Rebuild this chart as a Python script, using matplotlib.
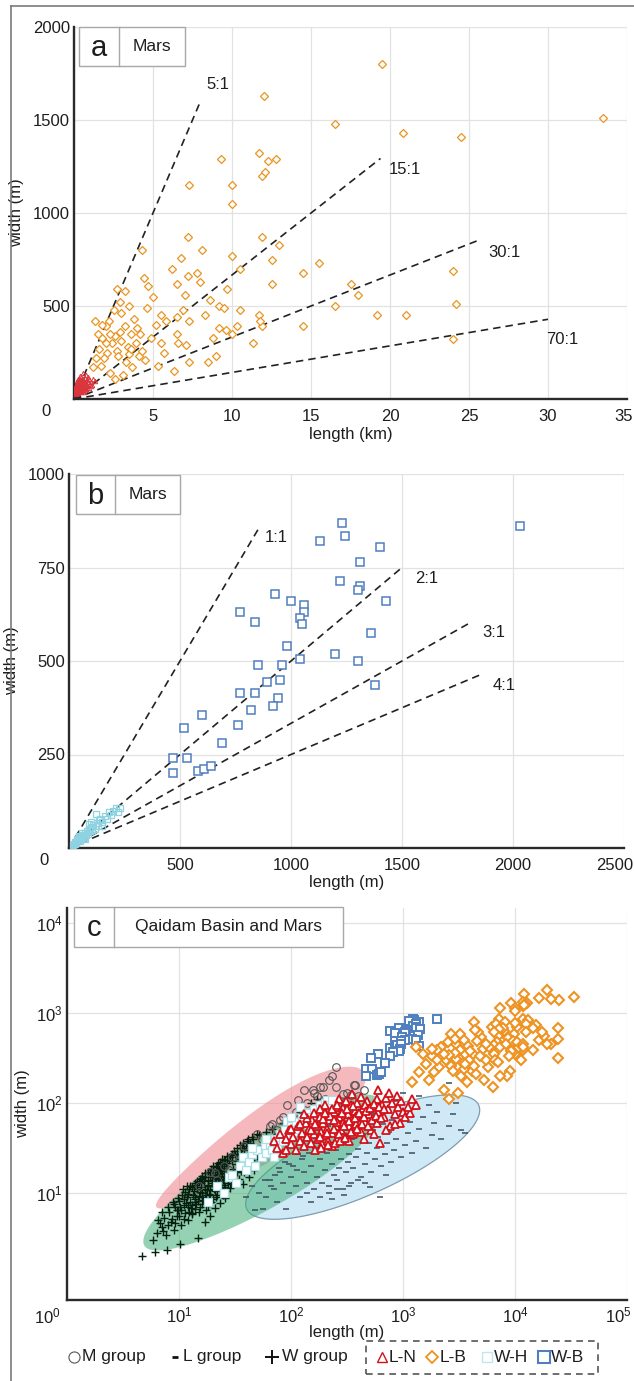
import numpy as np
import matplotlib
matplotlib.use('Agg')
import matplotlib.pyplot as plt
from matplotlib.patches import Rectangle
from matplotlib.lines import Line2D
from matplotlib.ticker import NullLocator

plt.rcParams['font.family'] = ['Liberation Sans', 'DejaVu Sans']
plt.rcParams['mathtext.fontset'] = 'custom'
plt.rcParams['mathtext.rm'] = 'Liberation Sans'
plt.rcParams['mathtext.default'] = 'regular'

# ---------------- data ----------------
# L-B (Mars, panel a): length in km, width in m
LB_len_km = [19.5, 12.0, 33.5, 16.5, 24.5, 20.8, 11.7, 12.8, 12.3, 9.3, 11.9, 12.1, 7.3, 10.0, 10.0,
             11.9, 13.0, 7.2, 8.1, 6.2, 6.8, 4.3, 24.0, 24.2, 24.0, 21.0, 19.2, 16.5, 15.5, 18.0, 14.5, 14.5,
             12.5, 12.5, 10.5, 10.0, 9.7, 9.2, 8.6, 8.0, 7.8, 7.2, 7.0, 6.5, 6.9, 6.5, 6.5, 7.3, 8.3, 9.5,
             10.5, 11.7, 11.9, 11.8, 10.3, 10.0, 9.6, 9.2, 9.0, 8.5, 7.3, 6.3, 5.7, 5.5, 5.2, 5.0, 4.7, 4.6,
             4.2, 3.8, 3.5, 3.2, 3.0, 2.7, 2.5, 2.2, 2.0, 1.8, 1.6, 1.4, 1.2, 1.7, 2.3, 2.6, 3.1, 3.7, 4.1,
             4.5, 3.9, 3.4, 3.0, 2.7, 2.4, 2.1, 1.9, 3.6, 3.2, 2.9, 2.6, 2.3, 4.3, 4.9, 5.3, 6.6, 7.1, 2.8,
             3.3, 1.5, 1.3, 2.0, 3.5, 4.0, 5.8, 3.6, 4.4, 2.9, 1.8, 5.5, 8.8, 11.3, 17.5]
LB_wid_m = [1800, 1630, 1510, 1480, 1410, 1430, 1320, 1290, 1280, 1290, 1200, 1220, 1150, 1150, 1050,
            870, 830, 870, 800, 700, 760, 800, 690, 510, 320, 450, 450, 500, 730, 560, 680, 390,
            750, 620, 700, 770, 590, 500, 530, 630, 680, 660, 560, 620, 480, 440, 350, 420, 450, 490,
            480, 450, 390, 420, 390, 350, 370, 380, 230, 200, 200, 150, 250, 300, 400, 550, 610, 490,
            350, 430, 500, 580, 460, 590, 480, 420, 390, 330, 270, 220, 170, 180, 140, 110, 130, 170, 230,
            210, 300, 280, 310, 260, 300, 250, 220, 350, 390, 360, 340, 350, 260, 330, 180, 300, 290, 230,
            200, 350, 420, 300, 240, 380, 420, 270, 650, 520, 400, 450, 330, 300, 620]

# L-N: length in m, width in m
LN_len_m = [70, 75, 80, 85, 90, 95, 100, 105, 110, 115, 120, 125, 130, 135, 140, 145, 150, 155, 160, 165,
            170, 175, 180, 185, 190, 195, 200, 205, 210, 215, 220, 230, 240, 250, 260, 270, 280, 290, 300, 310,
            320, 330, 340, 350, 360, 370, 380, 390, 400, 420, 440, 460, 480, 500, 520, 540, 560, 580, 600, 620,
            650, 680, 700, 730, 760, 800, 850, 900, 940, 1000, 1050, 1150, 1300, 1200, 1100, 950, 880, 750, 420, 460,
            290, 250, 200, 180, 160, 140, 120, 100, 90, 130, 230, 330, 450, 550, 700, 850, 270, 350, 600, 380,
            150, 165, 180, 195, 210, 225, 240, 255, 270, 285, 300, 315, 330, 345, 360, 375, 390, 405, 430, 450,
            470, 490, 510, 530, 550, 570, 590, 610, 640, 670, 185, 215, 245, 275, 305, 200, 230, 260, 310, 240]
LN_wid_m = [38, 32, 45, 28, 40, 50, 35, 42, 30, 55, 38, 47, 33, 60, 42, 52, 36, 65, 45, 30,
            55, 40, 70, 48, 35, 60, 44, 75, 52, 38, 65, 46, 80, 55, 40, 70, 50, 88, 60, 42,
            75, 55, 95, 65, 45, 82, 58, 100, 70, 48, 88, 62, 105, 75, 50, 92, 66, 110, 80, 36,
            95, 70, 115, 85, 55, 100, 75, 90, 60, 80, 70, 77, 95, 110, 90, 105, 120, 130, 117, 95,
            60, 90, 95, 85, 78, 68, 58, 52, 30, 75, 33, 38, 40, 45, 50, 58, 110, 125, 140, 72,
            50, 58, 42, 66, 47, 72, 52, 62, 45, 78, 55, 85, 63, 48, 92, 68, 52, 78, 58, 70,
            82, 55, 88, 65, 98, 72, 60, 90, 68, 85, 32, 34, 36, 38, 41, 78, 85, 95, 105, 65]

# W-B (Mars, panel b): length m, width m
WB_len_m = [1230, 1245, 1130, 1400, 2030, 1220, 1310, 1310, 1300, 1430, 1000, 930, 770, 1060, 1060,
            1040, 1050, 840, 1360, 980, 850, 1200, 1040, 1300, 960, 770, 840, 890, 950, 1380, 940, 920,
            820, 760, 690, 600, 520, 470, 530, 580, 610, 640, 470]
WB_wid_m = [870, 835, 820, 805, 860, 715, 765, 700, 690, 660, 660, 680, 630, 650, 630,
            615, 600, 605, 575, 540, 490, 520, 505, 500, 490, 415, 415, 445, 450, 435, 400, 380,
            370, 330, 280, 355, 320, 240, 240, 205, 210, 220, 200]

# W-H: length m, width m
WH_len_m = [18, 22, 25, 28, 30, 32, 35, 37, 40, 42, 45, 48, 50, 55, 58, 60, 65, 68, 72, 75, 80, 85, 88, 92,
            95, 100, 105, 110, 115, 120, 125, 130, 135, 140, 150, 160, 170, 180, 190, 200, 210, 220, 230,
            60, 45, 100, 70, 150]
WH_wid_m = [8, 12, 10, 15, 16, 13, 20, 25, 18, 22, 27, 20, 30, 25, 33, 28, 35, 30, 40, 34, 45, 38, 50, 64,
            45, 55, 48, 62, 52, 90, 68, 58, 75, 77, 70, 85, 78, 95, 88, 100, 108, 95, 107,
            40, 32, 70, 25, 60]

# M group (Qaidam): length m, width m
M_len_m = [252, 217, 192, 157, 130, 115, 92, 68, 85, 38, 19, 21, 370, 315, 290, 365, 340,
           25, 30, 45, 55, 60, 75, 100, 110, 140, 170, 200, 250, 300, 350, 400, 450,
           15, 22, 28, 35, 50, 65, 80, 120, 160, 180, 230]
M_wid_m = [252, 180, 150, 139, 139, 108, 95, 58, 70, 33, 17, 16.5, 160, 130, 126, 160, 123,
           20, 25, 30, 40, 35, 50, 60, 80, 100, 120, 110, 150, 100, 90, 120, 140,
           12, 14, 18, 24, 45, 55, 65, 90, 130, 150, 200]

# L group (Qaidam): length m, width m
L_len_m = [48, 56, 90, 140, 620, 510,
           60, 70, 75, 85, 95, 100, 110, 120, 130, 140,
           150, 160, 170, 180, 190, 200, 210, 220, 230, 240,
           250, 260, 270, 280, 290, 300, 310, 320, 330, 340,
           350, 360, 380, 400, 420, 440, 460, 480, 500, 520,
           540, 560, 580, 600, 630, 660, 690, 720, 750, 780,
           800, 830, 860, 900, 950, 1000, 1050, 1100, 1150, 1200,
           1250, 1300, 1400, 1500, 1600, 1700, 1800, 1900, 2000, 2200,
           2400, 2600, 2800, 3000, 3300, 3600, 2600, 1400, 900, 500,
           65, 80, 105, 125, 145, 165, 185, 205, 225, 245,
           88, 115, 135, 155, 175, 195, 215, 265, 295, 320,
           360, 400, 450, 470, 550, 600, 700, 750, 850, 1000,
           150, 180, 220, 260, 330, 400, 230, 300, 460, 700,
           40, 45, 52, 58, 66, 72, 78, 95, 112, 128]
L_wid_m = [6.4, 6.7, 6.7, 10, 9, 11.8,
           9, 11, 8, 13, 10, 15, 12, 9, 17, 13,
           20, 11, 15, 24, 13, 18, 28, 12, 21, 16,
           30, 14, 19, 24, 11, 35, 17, 22, 27, 13,
           40, 19, 25, 31, 15, 45, 21, 28, 36, 17,
           50, 24, 32, 42, 20, 58, 27, 36, 48, 22,
           65, 30, 40, 55, 25, 75, 34, 46, 62, 28,
           85, 38, 52, 70, 32, 95, 44, 60, 80, 40,
           110, 55, 75, 100, 50, 47, 166, 120, 90, 60,
           14, 17, 20, 24, 28, 32, 36, 40, 45, 50,
           22, 27, 33, 37, 43, 48, 55, 60, 45, 70,
           55, 80, 65, 95, 75, 100, 85, 120, 105, 130,
           8, 9, 10, 11, 12, 14, 8.5, 9.5, 13, 16,
           9, 12, 10, 14, 12, 16, 19, 21, 18, 26]

# W group (Qaidam): length m, width m
W_len_m = [4.7, 6.1, 7.8, 10.2, 14.8,
           6.3, 7.0, 7.6, 8.4, 9.0, 9.6, 10.5, 11.2, 12.0, 12.8,
           7.4, 8.2, 9.3, 10.0, 11.0, 11.8, 12.6, 13.5, 14.2, 15.0,
           13.0, 14.0, 15.5, 16.5, 17.5, 18.5, 19.5, 20.5, 21.5, 22.5,
           15.8, 16.8, 17.8, 18.8, 19.8, 20.8, 21.8, 22.8, 23.8, 24.8,
           16.2, 17.2, 18.2, 19.2, 20.2, 21.2, 22.2, 23.2, 24.2, 25.2,
           26.0, 27.5, 29.0, 30.5, 32.0, 34.0, 36.0, 38.0, 40.0, 43.0,
           26.5, 28.0, 29.5, 31.0, 33.0, 35.0, 37.5, 41.0, 45.0, 50.0,
           25.5, 28.5, 31.5, 35.5, 39.0, 44.0, 48.0, 53.0, 58.0, 64.0,
           13.8, 14.6, 15.3, 12.2, 11.4, 10.6, 9.8, 13.2, 14.4, 15.6,
           27.0, 30.0, 33.0, 36.5, 40.5, 46.0, 52.0, 60.0, 68.0, 75.0,
           55.0, 62.0, 70.0, 80.0, 90.0, 100.0, 85.0, 47.0, 42.0, 37.0,
           17.0, 19.0, 21.0, 23.0, 24.5, 16.0, 18.0, 20.0, 22.0, 24.0,
           7.0, 6.5, 8.8, 9.5, 10.8, 11.8, 12.5, 13.8, 120.0, 150.0,
           130.0, 170.0, 200.0,
           10.5, 11.5, 12.3, 13.1, 13.9, 14.7, 15.4, 16.1, 16.9, 17.6,
           18.3, 19.1, 19.8, 20.6, 21.3, 22.1, 22.9, 23.6, 24.4, 25.3,
           11.0, 12.0, 13.0, 14.0, 15.0, 16.0, 17.0, 18.0, 19.0, 20.0,
           21.0, 22.0, 23.0, 24.0, 25.0, 26.0, 27.0, 28.5, 30.0, 31.5,
           10.0, 11.0, 12.0, 13.0, 14.0, 15.0, 16.0, 17.0, 18.0, 19.0,
           20.0, 21.0, 22.0, 23.0, 24.0, 25.0, 26.0, 27.5, 29.0, 30.5,
           33.0, 35.0, 37.0, 39.0, 41.0, 34.0, 38.0, 42.0, 46.0, 50.0,
           8.0, 8.6, 9.2, 9.8, 7.2, 6.8, 5.8, 8.0, 9.0, 10.2]
W_wid_m = [2.0, 2.2, 2.3, 2.7, 3.2,
           3.6, 4.2, 3.4, 4.8, 3.9, 5.5, 4.4, 6.0, 5.0, 6.8,
           5.3, 6.2, 7.0, 8.1, 7.4, 9.0, 8.0, 10.5, 7.6, 9.2,
           5.8, 6.6, 7.0, 8.4, 6.5, 9.8, 8.0, 11.0, 9.0, 12.5,
           11.8, 13.5, 10.8, 15.0, 12.8, 14.5, 17.0, 15.2, 19.0, 13.8,
           15.5, 16.5, 17.0, 18.5, 20.0, 19.8, 21.5, 22.0, 24.0, 23.0,
           10.5, 13.0, 16.0, 18.5, 21.0, 24.0, 27.5, 30.0, 33.0, 36.0,
           20.0, 23.0, 26.5, 29.0, 31.5, 34.5, 36.0, 40.0, 42.0, 45.0,
           8.8, 11.5, 14.0, 17.5, 20.5, 23.5, 27.0, 30.5, 35.0, 40.0,
           12.2, 13.5, 14.2, 11.2, 10.2, 9.5, 8.8, 9.6, 11.0, 12.8,
           26.0, 27.5, 27.0, 32.0, 38.0, 40.0, 44.0, 48.0, 52.0, 45.0,
           25.0, 28.0, 33.0, 38.0, 42.0, 50.0, 60.0, 18.0, 15.0, 12.5,
           4.8, 5.6, 6.8, 7.8, 9.5, 10.0, 12.0, 16.0, 18.5, 16.5,
           6.2, 5.0, 8.0, 6.5, 11.0, 12.0, 12.0, 8.5, 80.0, 100.0,
           75.0, 110.0, 95.0,
           6.5, 7.8, 6.2, 7.4, 9.0, 8.1, 10.2, 9.1, 11.0, 9.6,
           12.2, 10.7, 13.6, 11.9, 14.8, 13.1, 16.2, 14.4, 17.6, 15.6,
           8.6, 9.8, 11.6, 12.8, 13.4, 14.6, 15.2, 14.0, 16.8, 18.0,
           16.0, 19.5, 18.0, 21.0, 19.0, 23.5, 21.5, 25.0, 22.5, 27.0,
           5.6, 5.2, 7.0, 6.0, 8.0, 6.2, 7.6, 8.8, 7.2, 9.4,
           8.6, 10.4, 9.6, 11.4, 10.8, 12.4, 11.6, 14.6, 12.6, 15.8,
           17.0, 20.0, 22.0, 25.0, 27.0, 14.5, 17.0, 19.5, 22.0, 26.0,
           4.4, 5.2, 4.6, 6.4, 3.8, 4.6, 3.0, 7.0, 7.6, 7.0]

# ratio guide lines
ratios_a = [5, 15, 30, 70]
ratio_a_end_km = [8.0, 19.4, 25.7, 30.0]
ratio_a_labels = ['5:1', '15:1', '30:1', '70:1']
ratios_b = [1, 2, 3, 4]
ratio_b_end_m = [860, 1500, 1800, 1850]
ratio_b_labels = ['1:1', '2:1', '3:1', '4:1']

# label anchor points (layout, left edge / vertical centre in data units)
lab_pos_a = [(8.4, 1690), (19.9, 1235), (26.2, 790), (29.9, 318)]
lab_pos_b = [(880, 830), (1560, 720), (1860, 575), (1910, 435)]

# envelopes (log10 length, log10 width): centre, half major axis, half minor axis
env_L = dict(c=(2.64, 1.40), half=(1.025, 0.60), b=0.40, k=0.0)
env_M = dict(c=(1.72, 1.60), half=(0.92, 0.76), b=0.26, k=0.35)
env_W = dict(c=(1.75, 1.22), half=(1.05, 0.82), b=0.36, k=0.10)

# ---------------- figure ----------------
W, H = 634, 1381
fig = plt.figure(figsize=(W / 100, H / 100), dpi=100)


def rect(l, t, r, b):
    return [l / W, 1 - b / H, (r - l) / W, (b - t) / H]


def fx(x):
    return x / W


def fy(y):
    return 1 - y / H


# outer frame (left and top only)
fig.add_artist(Line2D([fx(11), fx(11)], [0, fy(6)], color='#7a7a7a', lw=1.2))
fig.add_artist(Line2D([fx(11), 1], [fy(6), fy(6)], color='#7a7a7a', lw=1.2))

axa = fig.add_axes(rect(74, 27, 627, 399))
axb = fig.add_axes(rect(69, 474, 624, 848))
axc = fig.add_axes(rect(67, 908, 627, 1300))

TXT = '#1e1e1e'
FS = 12


def style(ax):
    for s in ['top', 'right']:
        ax.spines[s].set_visible(False)
    for s in ['left', 'bottom']:
        ax.spines[s].set_linewidth(1.7)
        ax.spines[s].set_color('#2a2a2a')
    ax.grid(True, which='major', color='#e2e2e2', lw=0.9)
    ax.set_axisbelow(True)
    ax.tick_params(which='both', length=0, labelsize=FS, colors=TXT)
    ax.tick_params(axis='x', pad=7)
    ax.tick_params(axis='y', pad=3)


def last_xlabel(ax, xval, text, dx_pt, pad_pt):
    ax.annotate(text, (xval, 0), xycoords=('data', 'axes fraction'), xytext=(dx_pt, -pad_pt),
                textcoords='offset points', ha='right', va='top', fontsize=FS, color=TXT)


def label_box(x0, y0, xdiv, x1, y1, letter, title, lsize=21):
    fig.add_artist(Rectangle((fx(x0), fy(y1)), fx(x1) - fx(x0), fy(y0) - fy(y1),
                             transform=fig.transFigure, facecolor='white',
                             edgecolor='#a8a8a8', lw=1.0, zorder=10))
    fig.add_artist(Line2D([fx(xdiv), fx(xdiv)], [fy(y1), fy(y0)], color='#a8a8a8', lw=1.0, zorder=11))
    fig.text(fx((x0 + xdiv) / 2), fy((y0 + y1) / 2 + 1), letter, ha='center', va='center',
             fontsize=lsize, color=TXT, zorder=12)
    fig.text(fx((xdiv + x1) / 2), fy((y0 + y1) / 2), title, ha='center', va='center',
             fontsize=12.5, color=TXT, zorder=12)


# ---- panel a ----
style(axa)
axa.set_xlim(0, 35)
axa.set_ylim(0, 2000)
axa.set_xticks([0, 5, 10, 15, 20, 25, 30, 35])
axa.set_xticklabels(['', '5', '10', '15', '20', '25', '30', ''])
last_xlabel(axa, 35, '35', 4.5, 7)
axa.set_yticks([0, 500, 1000, 1500, 2000])
axa.set_yticklabels(['', '500', '1000', '1500', '2000'])
for r, xe, lab, pos in zip(ratios_a, ratio_a_end_km, ratio_a_labels, lab_pos_a):
    axa.plot([0, xe], [0, xe * 1000 / r], ls=(0, (4.5, 3)), color='#222', lw=1.2, zorder=2)
    axa.text(pos[0], pos[1], lab, ha='left', va='center', fontsize=FS, color=TXT)
axa.plot(np.array(LN_len_m) / 1000, LN_wid_m, ls='none', marker='^', ms=3.2, mfc='none',
         mec='#d9363e', mew=0.7, zorder=3)
axa.plot(LB_len_km, LB_wid_m, ls='none', marker='D', ms=4.2, mfc='white', mec='#e8951f',
         mew=0.9, zorder=4)
axa.set_xlabel('length (km)', fontsize=FS, color=TXT, labelpad=2)
axa.set_ylabel('width (m)', fontsize=FS, color=TXT, labelpad=6)
axa.annotate('0', (0, 0), xycoords='axes fraction', xytext=(-20, -9), textcoords='offset points',
             ha='center', va='center', fontsize=FS, color=TXT)
label_box(79, 27, 119, 185, 66, 'a', 'Mars')

# ---- panel b ----
style(axb)
axb.set_xlim(0, 2500)
axb.set_ylim(0, 1000)
axb.set_xticks([0, 500, 1000, 1500, 2000, 2500])
axb.set_xticklabels(['', '500', '1000', '1500', '2000', ''])
last_xlabel(axb, 2500, '2500', 6.5, 7)
axb.set_yticks([0, 250, 500, 750, 1000])
axb.set_yticklabels(['', '250', '500', '750', '1000'])
for r, xe, lab, pos in zip(ratios_b, ratio_b_end_m, ratio_b_labels, lab_pos_b):
    axb.plot([0, xe], [0, xe / r], ls=(0, (4.5, 3)), color='#222', lw=1.2, zorder=2)
    axb.text(pos[0], pos[1], lab, ha='left', va='center', fontsize=FS, color=TXT)
axb.plot(WH_len_m, WH_wid_m, ls='none', marker='s', ms=4.2, mfc='none', mec='#8fd3e3',
         mew=0.9, zorder=3)
axb.plot(WB_len_m, WB_wid_m, ls='none', marker='s', ms=5.2, mfc='white', mec='#4f7fbf',
         mew=1.1, zorder=4)
axb.set_xlabel('length (m)', fontsize=FS, color=TXT, labelpad=2)
axb.set_ylabel('width (m)', fontsize=FS, color=TXT, labelpad=6)
axb.annotate('0', (0, 0), xycoords='axes fraction', xytext=(-18, -9), textcoords='offset points',
             ha='center', va='center', fontsize=FS, color=TXT)
label_box(76, 475, 115, 180, 514, 'b', 'Mars')

# ---- panel c ----
style(axc)
axc.set_xscale('log')
axc.set_yscale('log')
axc.set_xlim(1, 1e5)
axc.set_ylim(10 ** -0.19, 10 ** 4.17)
axc.xaxis.set_minor_locator(NullLocator())
axc.yaxis.set_minor_locator(NullLocator())
axc.set_xticks([1, 10, 100, 1000, 10000, 100000])
axc.set_xticklabels(['', '$10^{1}$', '$10^{2}$', '$10^{3}$', '$10^{4}$', ''])
axc.set_yticks([10, 100, 1000, 10000])
axc.set_yticklabels(['$10^{1}$', '$10^{2}$', '$10^{3}$', '$10^{4}$'])
axc.tick_params(axis='x', pad=4)
last_xlabel(axc, 1e5, '$10^{5}$', 3, 4)


def envelope(ax, c, half, b, k, **kw):
    t = np.linspace(0, 2 * np.pi, 300)
    u = np.array(half, dtype=float)
    n = np.array([-u[1], u[0]]) / np.hypot(*u)
    w = b * (1 + k * np.cos(t))
    px = c[0] + np.cos(t) * u[0] + np.sin(t) * w * n[0]
    py = c[1] + np.cos(t) * u[1] + np.sin(t) * w * n[1]
    ax.fill(10 ** px, 10 ** py, **kw)


envelope(axc, **env_L, facecolor='#cfe9f6', edgecolor='#7f9dac', lw=0.9, zorder=1)
envelope(axc, **env_M, facecolor='#ef8a92', edgecolor='none', alpha=0.6, zorder=1.2)
envelope(axc, **env_W, facecolor='#3fae77', edgecolor='none', alpha=0.55, zorder=1.4)

axc.plot(L_len_m, L_wid_m, ls='none', marker='_', ms=4, mec='#3c4d5a', mew=1.1, zorder=2)
axc.plot(W_len_m, W_wid_m, ls='none', marker='+', ms=5.6, mec='#06200f', mew=1.0, zorder=2.2)
axc.plot(M_len_m, M_wid_m, ls='none', marker='o', ms=5.5, mfc='none', mec='#555555', mew=0.8,
         zorder=2.4)
axc.plot(WH_len_m, WH_wid_m, ls='none', marker='s', ms=5.2, mfc='white', mec='#a9e0ea', mew=0.9,
         zorder=3)
axc.plot(LN_len_m, LN_wid_m, ls='none', marker='^', ms=5.5, mfc='white', mec='#d4111b', mew=1.3,
         zorder=3.1)
axc.plot(WB_len_m, WB_wid_m, ls='none', marker='s', ms=6.0, mfc='white', mec='#4f7fbf', mew=1.4,
         zorder=3.2)
axc.plot(np.array(LB_len_km) * 1000, LB_wid_m, ls='none', marker='D', ms=5.3, mfc='white',
         mec='#ee9322', mew=1.5, zorder=3.3)
axc.set_xlabel('length (m)', fontsize=FS, color=TXT, labelpad=0)
axc.set_ylabel('width (m)', fontsize=FS, color=TXT, labelpad=4)
axc.annotate('$10^{0}$', (0, 0), xycoords='axes fraction', xytext=(-14, -12),
             textcoords='offset points', ha='center', va='center', fontsize=FS, color=TXT)
label_box(74, 907, 114, 343, 947, 'c', 'Qaidam Basin and Mars')

# ---------------- legend ----------------
ly = 1357


def leg_marker(x, **kw):
    fig.add_artist(Line2D([fx(x)], [fy(ly)], transform=fig.transFigure, ls='none', **kw))


def leg_text(x, s):
    fig.text(fx(x), fy(ly), s, ha='left', va='center', fontsize=12.5, color=TXT)


leg_marker(74, marker='o', ms=8, mfc='none', mec='#555555', mew=0.8)
leg_text(82, 'M group')
leg_marker(175, marker='_', ms=5, mec='#111', mew=2)
leg_text(183, 'L group')
leg_marker(272, marker='+', ms=10, mec='#111', mew=1.4)
leg_text(282, 'W group')
fig.add_artist(Rectangle((fx(366), fy(1374)), fx(598) - fx(366), fy(1341) - fy(1374),
                         transform=fig.transFigure, facecolor='none', edgecolor='#555',
                         lw=1.2, ls=(0, (4, 3))))
leg_marker(382, marker='^', ms=7, mfc='none', mec='#d4111b', mew=1.0)
leg_text(389, 'L-N')
leg_marker(432, marker='D', ms=6.5, mfc='none', mec='#ee9322', mew=1.3)
leg_text(440, 'L-B')
leg_marker(487, marker='s', ms=7, mfc='none', mec='#c2e6ee', mew=1.0)
leg_text(494, 'W-H')
leg_marker(544, marker='s', ms=8, mfc='none', mec='#4f7fbf', mew=1.5)
leg_text(551, 'W-B')

fig.savefig('out.png', dpi=100, facecolor='white')
